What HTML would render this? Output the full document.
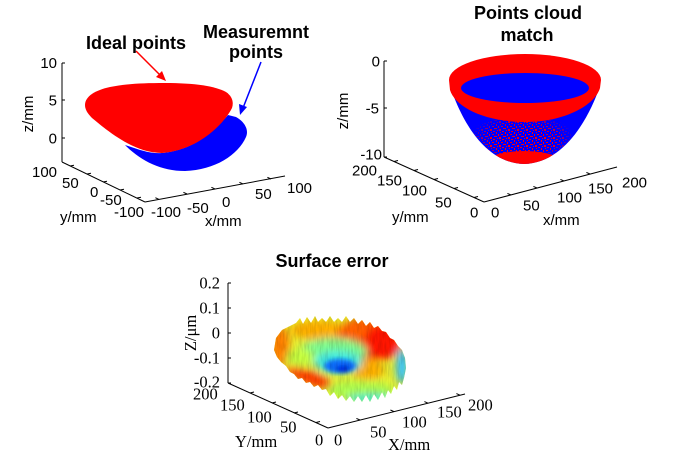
<!DOCTYPE html>
<html><head><meta charset="utf-8"><style>
html,body{margin:0;padding:0;background:#fff;}
svg{display:block;}
.a{font-family:"Liberation Sans",Arial,sans-serif;font-size:15px;fill:#000;}
.b{font-family:"Liberation Sans",Arial,sans-serif;font-size:18px;font-weight:bold;fill:#000;}
.t{font-family:"Liberation Serif","Times New Roman",serif;font-size:16.5px;fill:#000;}
</style></head><body>
<svg width="683" height="457" viewBox="0 0 683 457" xmlns="http://www.w3.org/2000/svg">
<defs>
<pattern id="spk" width="9" height="8" patternUnits="userSpaceOnUse">
<rect x="0" y="0" width="2" height="1" fill="#f00"/><rect x="4" y="1" width="2" height="2" fill="#f00"/><rect x="7" y="3" width="2" height="1" fill="#f00"/><rect x="1" y="4" width="1" height="2" fill="#f00"/><rect x="6" y="6" width="2" height="1" fill="#f00"/><rect x="3" y="6" width="1" height="2" fill="#f00"/><rect x="8" y="0" width="1" height="1" fill="#f00"/><rect x="2" y="2" width="1" height="1" fill="#f00"/><rect x="5" y="4" width="1" height="1" fill="#f00"/>
</pattern>
<radialGradient id="rg" cx="0.5" cy="0.5" r="0.5">
<stop offset="0" stop-color="#fff" stop-opacity="1"/><stop offset="0.7" stop-color="#fff" stop-opacity="0.8"/><stop offset="1" stop-color="#fff" stop-opacity="0"/>
</radialGradient>
<mask id="spm"><ellipse cx="522" cy="138" rx="52" ry="24" fill="url(#rg)"/></mask>
<clipPath id="cone"><path d="M450,86 C458,110 480,163 524,164 C566,163 590,115 600,86 Z"/></clipPath>
<filter id="bl" x="-20%" y="-20%" width="140%" height="140%"><feGaussianBlur stdDeviation="4"/></filter>
<filter id="bl2" x="-20%" y="-20%" width="140%" height="140%"><feGaussianBlur stdDeviation="2"/></filter>
<filter id="noise" x="0" y="0" width="100%" height="100%">
<feTurbulence type="fractalNoise" baseFrequency="0.6 0.08" numOctaves="2" seed="3"/>
<feColorMatrix type="matrix" values="0 0 0 0 0  0 0 0 0 0  0 0 0 0 0  0 0 0 -1.6 1.0"/>
</filter>
<clipPath id="tor"><path d="M274,350 L276,338 L282,330 L290,326 L296,323 L300,318 L303,324 L307,317 L311,323 L315,316 L318,322 L322,318 L326,322 L330,316 L334,322 L338,318 L342,322 L346,316 L350,322 L354,318 L358,324 L362,320 L366,326 L370,322 L374,328 L378,326 L382,331 L386,332 L390,338 L394,340 L398,346 L402,350 L405,358 L406,368 L404,378 L402,385 L399,382 L397,390 L394,386 L391,394 L388,390 L385,398 L382,392 L378,400 L374,394 L370,402 L366,395 L362,402 L358,396 L354,402 L350,396 L346,401 L342,395 L338,399 L334,392 L330,396 L326,389 L322,390 L318,385 L314,387 L310,382 L306,383 L302,378 L298,379 L294,374 L290,372 L286,366 L281,362 L277,357 Z"/></clipPath>
</defs>

<!-- ===== Plot 1 ===== -->
<g stroke="#000" stroke-width="1" fill="none">
<line x1="62" y1="63" x2="62" y2="162"/>
<line x1="62" y1="162" x2="145" y2="202"/>
<line x1="145" y1="202" x2="285" y2="176"/>
<line x1="62" y1="63" x2="65" y2="63"/><line x1="62" y1="100" x2="65" y2="100"/><line x1="62" y1="138" x2="65" y2="138"/>
<line x1="70" y1="166" x2="74" y2="165.3"/><line x1="87" y1="174" x2="91" y2="173.3"/><line x1="103" y1="182" x2="107" y2="181.3"/><line x1="120" y1="190" x2="124" y2="189.3"/><line x1="137" y1="198" x2="141" y2="197.3"/>
<line x1="159" y1="199.4" x2="155.4" y2="197.7"/><line x1="187" y1="194" x2="183.4" y2="192.3"/><line x1="215" y1="189" x2="211.4" y2="187.3"/><line x1="243" y1="184" x2="239.4" y2="182.3"/><line x1="271" y1="179" x2="267.4" y2="177.3"/>
</g>
<path d="M125,145 C140,150 150,154 162,153 C195,150 215,130 228,115 L236,117 C245,122 249,130 246,137 C238,155 215,170 185,171 C160,171 140,160 125,145 Z" fill="#0000ff"/>
<path d="M85,105 C85,96 96,90 110,87 C125,84 140,83 165,83 C195,83 215,86 226,92 C232,96 234,102 232,108 C225,122 200,150 162,153 C135,153 110,133 92,118 C87,113 85,109 85,105 Z" fill="#ff0000"/>
<line x1="136" y1="51" x2="161" y2="76" stroke="#f00" stroke-width="1.5"/>
<path d="M166,81 L156,77 L162,71 Z" fill="#f00"/>
<line x1="261" y1="62" x2="243" y2="108" stroke="#00f" stroke-width="1.5"/>
<path d="M240,115 L239,104 L247,107 Z" fill="#00f"/>
<text class="b" x="136" y="49" text-anchor="middle">Ideal points</text>
<text class="b" x="256" y="38" text-anchor="middle">Measuremnt</text>
<text class="b" x="256" y="58" text-anchor="middle">points</text>
<g class="a">
<text x="57" y="68" text-anchor="end">10</text>
<text x="57" y="105.5" text-anchor="end">5</text>
<text x="57" y="143.5" text-anchor="end">0</text>
<text x="32" y="177">100</text>
<text x="62" y="188">50</text>
<text x="90" y="197">0</text>
<text x="100" y="205">-50</text>
<text x="114" y="217">-100</text>
<text x="60" y="222">y/mm</text>
<text x="151" y="217">-100</text>
<text x="187" y="213">-50</text>
<text x="222" y="207">0</text>
<text x="255" y="199">50</text>
<text x="287" y="193">100</text>
<text x="205" y="226">x/mm</text>
<text transform="translate(33,114) rotate(-90)" text-anchor="middle">z/mm</text>
</g>

<!-- ===== Plot 2 ===== -->
<g stroke="#000" stroke-width="1" fill="none">
<line x1="384" y1="61" x2="384" y2="157"/>
<line x1="384" y1="157" x2="484" y2="202"/>
<line x1="484" y1="202" x2="617" y2="167"/>
<line x1="384" y1="61" x2="387" y2="61"/><line x1="384" y1="108" x2="387" y2="108"/><line x1="384" y1="157" x2="387" y2="157"/>
<line x1="394" y1="161.5" x2="398" y2="160.5"/><line x1="414" y1="170.5" x2="418" y2="169.5"/><line x1="434" y1="179.5" x2="438" y2="178.5"/><line x1="454" y1="188.5" x2="458" y2="187.5"/><line x1="474" y1="197.5" x2="478" y2="196.5"/>
<line x1="511" y1="195" x2="507.4" y2="193.4"/><line x1="537" y1="188" x2="533.4" y2="186.4"/><line x1="564" y1="181" x2="560.4" y2="179.4"/><line x1="590" y1="174" x2="586.4" y2="172.4"/>
</g>
<path d="M450,86 C458,110 480,163 524,164 C566,163 590,115 600,86 Z" fill="#0000ff"/>
<g clip-path="url(#cone)">
<rect x="440" y="100" width="170" height="70" fill="url(#spk)" mask="url(#spm)"/>
<ellipse cx="522" cy="143" rx="34" ry="12" fill="url(#spk)"/>
<ellipse cx="524" cy="163" rx="38" ry="12" fill="#ff0000"/>
</g>
<path d="M449,80 A76,26 0 0 1 601,80 L600,88 C595,105 565,122 525,122 C485,122 455,107 450,90 Z" fill="#ff0000"/>
<ellipse cx="525" cy="88" rx="64" ry="15" fill="#0000ff"/>
<text class="b" x="528" y="19" text-anchor="middle">Points cloud</text>
<text class="b" x="527" y="41" text-anchor="middle">match</text>
<g class="a">
<text x="380" y="66.5" text-anchor="end">0</text>
<text x="379" y="113.5" text-anchor="end">-5</text>
<text x="382" y="159.5" text-anchor="end">-10</text>
<text x="352" y="175.5">200</text>
<text x="377" y="185.5">150</text>
<text x="402" y="195.5">100</text>
<text x="435" y="207.5">50</text>
<text x="470" y="217.5">0</text>
<text x="392" y="222">y/mm</text>
<text x="491" y="217.5">0</text>
<text x="523" y="210.5">50</text>
<text x="557" y="202.5">100</text>
<text x="588" y="193.5">150</text>
<text x="622" y="187.5">200</text>
<text x="543" y="225">x/mm</text>
<text transform="translate(348,111) rotate(-90)" text-anchor="middle">z/mm</text>
</g>

<!-- ===== Plot 3 ===== -->
<g stroke="#000" stroke-width="1" fill="none">
<line x1="228" y1="283" x2="228" y2="383"/>
<line x1="228" y1="383" x2="328" y2="428"/>
<line x1="328" y1="428" x2="465" y2="394"/>
<line x1="228" y1="283" x2="231" y2="283"/><line x1="228" y1="308" x2="231" y2="308"/><line x1="228" y1="333" x2="231" y2="333"/><line x1="228" y1="358" x2="231" y2="358"/><line x1="228" y1="383" x2="231" y2="383"/>
<line x1="250" y1="393" x2="254" y2="392"/><line x1="272" y1="403" x2="276" y2="402"/><line x1="294" y1="413" x2="298" y2="412"/><line x1="316" y1="422.5" x2="320" y2="421.5"/>
<line x1="360" y1="420" x2="356.4" y2="418.4"/><line x1="394" y1="411.6" x2="390.4" y2="410"/><line x1="428" y1="403.2" x2="424.4" y2="401.6"/><line x1="460" y1="395.2" x2="456.4" y2="393.6"/>
</g>
<g clip-path="url(#tor)">
<rect x="270" y="310" width="140" height="95" fill="#e8f030"/>
<g filter="url(#bl)">
<ellipse cx="318" cy="330" rx="28" ry="10" fill="#ffb000"/>
<ellipse cx="280" cy="346" rx="10" ry="20" fill="#ff8000"/>
<ellipse cx="370" cy="338" rx="34" ry="22" fill="#ff6000"/>
<ellipse cx="382" cy="342" rx="18" ry="18" fill="#ff1800"/>
<ellipse cx="333" cy="352" rx="34" ry="14" fill="#80ff90"/>
<ellipse cx="300" cy="358" rx="14" ry="10" fill="#c8ff40"/>
<ellipse cx="368" cy="370" rx="16" ry="10" fill="#ffb000"/>
<ellipse cx="310" cy="378" rx="26" ry="7" fill="#ff3a00" transform="rotate(22 310 378)"/>
<ellipse cx="360" cy="390" rx="34" ry="9" fill="#b0ff50"/>
<ellipse cx="370" cy="399" rx="24" ry="5" fill="#40f0d0"/>
<ellipse cx="402" cy="366" rx="6" ry="18" fill="#30c0ff"/>
<ellipse cx="338" cy="362" rx="24" ry="11" fill="#40e8e0"/>
</g>
<g filter="url(#bl2)">
<ellipse cx="340" cy="366" rx="16" ry="7" fill="#1070ff"/>
<ellipse cx="343" cy="369" rx="7" ry="4" fill="#0030e0"/>
</g>
<rect x="270" y="310" width="140" height="95" filter="url(#noise)" opacity="0.18"/>
</g>
<text class="b" x="332" y="267" text-anchor="middle">Surface error</text>
<g class="t">
<text x="220" y="288.5" text-anchor="end">0.2</text>
<text x="220" y="313.5" text-anchor="end">0.1</text>
<text x="220" y="338.5" text-anchor="end">0</text>
<text x="220" y="363.5" text-anchor="end">-0.1</text>
<text x="220" y="387.5" text-anchor="end">-0.2</text>
<text x="193" y="399.5">200</text>
<text x="220" y="410.5">150</text>
<text x="247" y="422.5">100</text>
<text x="280" y="432.5">50</text>
<text x="315" y="445.5">0</text>
<text x="235" y="447">Y/mm</text>
<text x="334" y="445.5">0</text>
<text x="370" y="437.5">50</text>
<text x="402" y="427.5">100</text>
<text x="437" y="417.5">150</text>
<text x="468" y="410.5">200</text>
<text x="388" y="450">X/mm</text>
<text transform="translate(196,333) rotate(-90)" text-anchor="middle">Z/μm</text>
</g>
</svg>
</body></html>
